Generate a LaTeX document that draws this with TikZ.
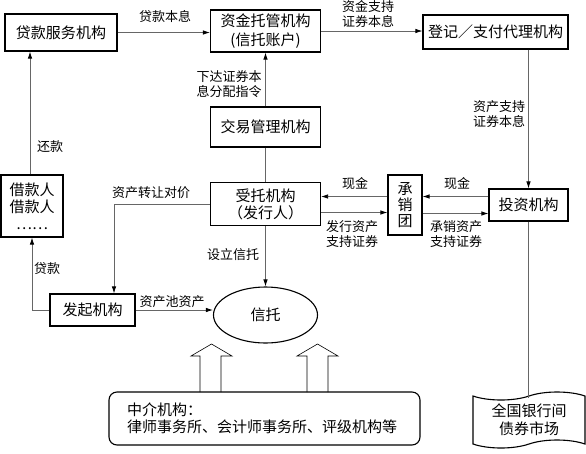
\documentclass[tikz,border=0pt]{standalone}
\usepackage{fontspec}
\setmainfont{Noto Sans CJK SC}
\usetikzlibrary{shapes.geometric,shapes.symbols,arrows.meta}
\begin{document}
\begin{tikzpicture}[x=1pt,y=-1pt,
  box/.style={draw, line width=1.1pt, inner sep=0pt, align=center,
    font=\fontsize{15}{18}\selectfont},
  lbl/.style={inner sep=0pt, align=center, font=\fontsize{13}{15}\selectfont},
  conn/.style={draw=black!60, line width=0.8pt, -{Latex[length=7pt,width=4.5pt,black]}},
  plain/.style={draw=black!60, line width=0.8pt},
  blk/.style={draw=black, line width=0.6pt}]
\useasboundingbox (0,0) rectangle (586,453);
% nodes
\node[box, minimum width=112pt, minimum height=37pt] (dkfw) at (61,32.5) {贷款服务机构};
\node[box, minimum width=110pt, minimum height=42pt, font=\fontsize{15}{19}\selectfont] (zjtg) at (265.5,31) {资金托管机构\\(信托账户)};
\node[box, minimum width=145pt, minimum height=34pt] (dj) at (495.5,32) {登记／支付代理机构};
\node[box, minimum width=110pt, minimum height=40pt] (jy) at (265.5,127) {交易管理机构};
\node[box, minimum width=110pt, minimum height=43pt, font=\fontsize{15}{17}\selectfont] (st) at (265.5,204) {受托机构\\（发行人）};
\node[box, minimum width=34pt, minimum height=60pt, font=\fontsize{15}{16}\selectfont] (cx) at (405,205) {承\\销\\团};
\node[box, minimum width=79pt, minimum height=32pt] (tz) at (528.5,205) {投资机构};
\node[box, ellipse, minimum width=104pt, minimum height=56pt] (qx) at (265.5,315) {信托};
\node[box, minimum width=85pt, minimum height=32pt] (fq) at (92.5,310) {发起机构};
\node[box, minimum width=62pt, minimum height=62pt, font=\fontsize{15}{17}\selectfont] (jk) at (32,206) {借款人\\借款人\\……};
\node[box, rounded corners=8pt, minimum height=53pt, text width=275pt, inner xsep=18pt, align=left, font=\fontsize{15}{17}\selectfont] (zj) at (264.5,418.5) {中介机构：\\律师事务所、会计师事务所、评级机构等};
\node[box, tape, minimum width=112pt, minimum height=56pt, tape bend height=8pt, font=\fontsize{15}{18}\selectfont] (sc) at (529,420) {全国银行间\\债券市场};
% connectors
\draw[conn] (dkfw.east) -- (dkfw.east -| zjtg.west);
\node[lbl] (l1) at (165,17) {贷款本息};
\draw[conn] (zjtg.east) -- (zjtg.east -| dj.west);
\node[lbl] (l2) at (368,14) {资金支持\\证券本息};
\draw[conn] (jy.north) -- (zjtg.south);
\node[lbl] (l3) at (229,84) {下达证券本\\息分配指令};
\draw[plain] (jy.south) -- (st.north);
\draw[conn] ([yshift=8.5pt]cx.west) -- ([yshift=8.5pt]cx.west -| st.east);
\node[lbl] (l4) at (355,184) {现金};
\draw[conn] ([yshift=-8.5pt]st.east) -- ([yshift=-8.5pt]st.east -| cx.west);
\node[lbl] (l5) at (352,234) {发行资产\\支持证券};
\draw[conn] ([yshift=8.5pt]tz.west) -- ([yshift=8.5pt]tz.west -| cx.east);
\node[lbl] (l6) at (457,184) {现金};
\draw[conn] ([yshift=-8.5pt]cx.east) -- ([yshift=-8.5pt]cx.east -| tz.west);
\node[lbl] (l7) at (456,234) {承销资产\\支持证券};
\draw[conn] (dj.south -| tz.north) -- (tz.north);
\node[lbl] (l8) at (499,114) {资产支持\\证券本息};
\draw[plain] (tz.south) -- ([yshift=-2pt]tz.south |- sc.north);
\draw[conn] (st.south) -- (qx.north);
\node[lbl] (l9) at (233,255) {设立信托};
\draw[conn] (st.west) -| ([xshift=21.5pt]fq.north);
\node[lbl] (l10) at (151,193) {资产转让对价};
\draw[conn] (fq.east) -- (fq.east -| qx.west);
\node[lbl] (l11) at (172,302) {资产池资产};
\draw[conn] (fq.west) -| (jk.south);
\node[lbl] (l12) at (47,269) {贷款};
\draw[conn] ([xshift=-2pt]jk.north) -- ([xshift=-2pt]jk.north |- dkfw.south);
\node[lbl] (l13) at (50,147) {还款};
% hollow block arrows
\draw[blk] (200,392) -- (200,356) -- (191,356) -- (211.5,344) -- (232,356) -- (221,356) -- (221,392);
\draw[blk] (307,392) -- (307,356) -- (297,356) -- (317.5,344) -- (338,356) -- (328,356) -- (328,392);
\end{tikzpicture}
\end{document}
